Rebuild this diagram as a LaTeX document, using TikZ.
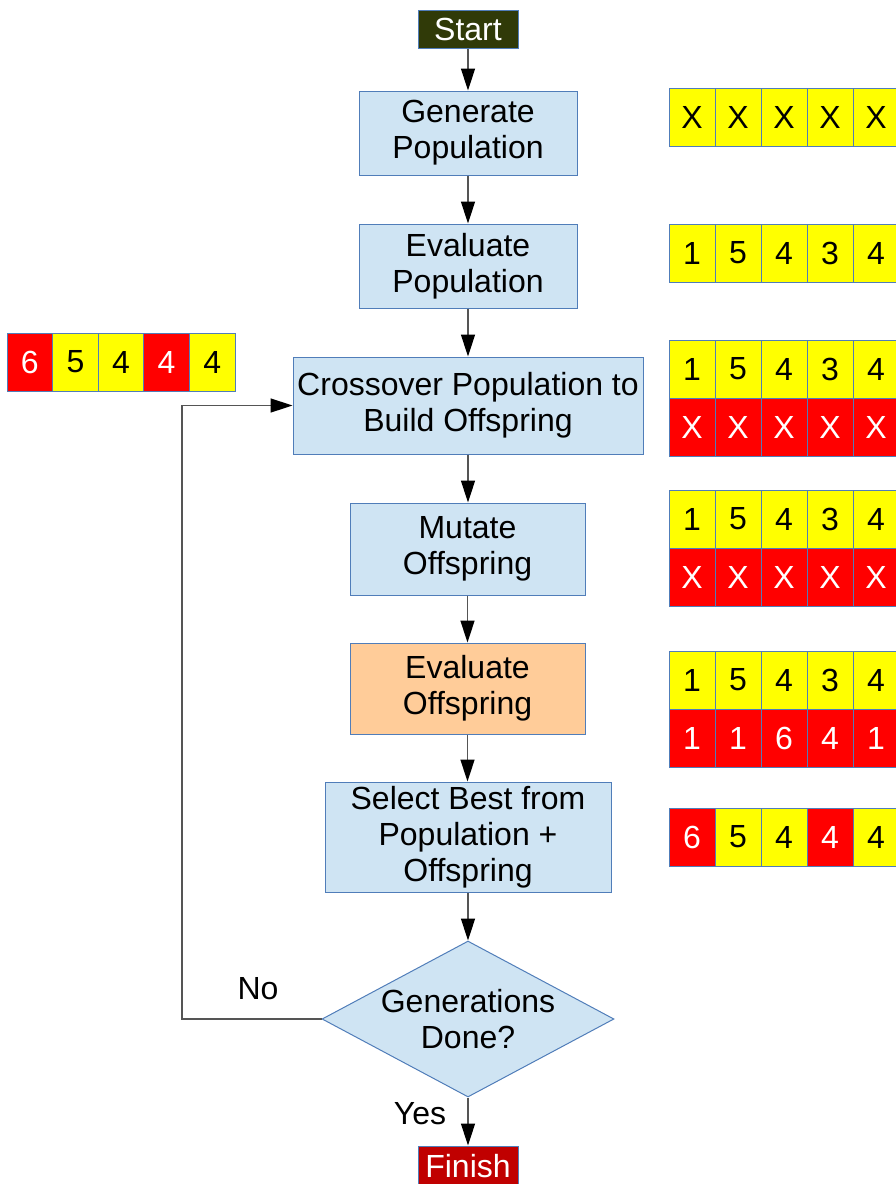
\documentclass[tikz,border=0pt]{standalone}
\usepackage{fontspec}
\setmainfont{Liberation Sans}
\usetikzlibrary{arrows.meta,shapes.geometric}

\definecolor{boxblue}{RGB}{207,228,243}
\definecolor{edgeblue}{RGB}{80,125,185}
\definecolor{startgreen}{RGB}{48,58,8}
\definecolor{finishred}{RGB}{192,0,0}
\definecolor{evalorange}{RGB}{255,204,153}
\definecolor{cellyellow}{RGB}{255,255,0}
\definecolor{cellred}{RGB}{255,0,0}
\definecolor{linegray}{RGB}{85,85,85}

\tikzset{
  txt/.style={font=\fontsize{32}{36}\selectfont},
  plainbox/.style={txt, draw=edgeblue, fill=boxblue, align=center, inner sep=0pt, line width=1pt},
  stepbox/.style={plainbox, execute at begin node={\rule{0pt}{37pt}}},
  endbox/.style={plainbox, text=white, minimum width=100, minimum height=38},
  decision/.style={txt, diamond, draw=edgeblue, fill=boxblue, align=center, inner sep=-10pt,
    minimum width=292, minimum height=156, aspect=1.87, line width=1pt},
  cell/.style={txt, draw=edgeblue, line width=1pt, minimum width=46, minimum height=58, inner sep=0pt},
  yel/.style={fill=cellyellow, text=black},
  rd/.style={fill=cellred, text=white},
  flow/.style={draw=linegray, line width=1.5pt, -{Triangle[width=14pt,length=22pt,color=black]}}
}

\begin{document}
\begin{tikzpicture}[x=1pt, y=-1pt]
  \useasboundingbox (0,0) rectangle (895,1184);

  % flow chart
  \node[endbox, fill=startgreen] (start) at (468,29) {Start};
  \node[stepbox, minimum width=218, minimum height=84] (genpop) at (468,133) {Generate\\Population};
  \node[stepbox, minimum width=218, minimum height=84] (evalpop) at (468,266) {Evaluate\\Population};
  \node[stepbox, minimum width=350, minimum height=97] (cross) at (468,405.5) {Crossover Population to\\Build Offspring};
  \node[stepbox, minimum width=235, minimum height=92] (mutate) at (467.5,549) {Mutate\\Offspring};
  \node[stepbox, fill=evalorange, minimum width=235, minimum height=91] (evaloff) at (467.5,688.5) {Evaluate\\Offspring};
  \node[stepbox, minimum width=286, minimum height=110] (select) at (468,837) {Select Best from\\Population +\\Offspring};
  \node[decision] (done) at (468,1019) {Generations\\Done?};
  \node[endbox, fill=finishred, minimum height=40] (finish) at (468,1166) {Finish};

  \draw[flow] (start) -- (genpop);
  \draw[flow] (genpop) -- (evalpop);
  \draw[flow] (evalpop) -- (cross);
  \draw[flow] (cross.south) -- (cross.south |- mutate.north);
  \draw[flow] (mutate.south) -- (mutate.south |- evaloff.north);
  \draw[flow] (evaloff.south) -- (evaloff.south |- select.north);
  \draw[flow] (select) -- (done);
  \draw[flow] (done) -- (finish);

  % loop back
  \coordinate (back) at (182,1019);
  \draw[flow] (done.west) -- (back) |- (cross.west);
  \node[txt] (nolbl) at (258,989) {No};
  \node[txt] (yeslbl) at (420,1114) {Yes};

  % arrays
  \foreach \v [count=\i from 0] in {X,X,X,X,X}
    \node[cell, yel] (gen\i) at (692+46*\i,117) {\v};
  \foreach \v [count=\i from 0] in {1,5,4,3,4}
    \node[cell, yel] (fit\i) at (692+46*\i,253) {\v};
  \foreach \v [count=\i from 0] in {1,5,4,3,4}
    \node[cell, yel] (crossa\i) at (692+46*\i,369) {\v};
  \foreach \v [count=\i from 0] in {X,X,X,X,X}
    \node[cell, rd] (crossb\i) at (692+46*\i,427) {\v};
  \foreach \v [count=\i from 0] in {1,5,4,3,4}
    \node[cell, yel] (muta\i) at (692+46*\i,519) {\v};
  \foreach \v [count=\i from 0] in {X,X,X,X,X}
    \node[cell, rd] (mutb\i) at (692+46*\i,577) {\v};
  \foreach \v [count=\i from 0] in {1,5,4,3,4}
    \node[cell, yel] (offa\i) at (692+46*\i,680) {\v};
  \foreach \v [count=\i from 0] in {1,1,6,4,1}
    \node[cell, rd] (offb\i) at (692+46*\i,738.5) {\v};
  \foreach \v/\c [count=\i from 0] in {6/rd,5/yel,4/yel,4/rd,4/yel}
    \node[cell, \c] (best\i) at (692+46*\i,837) {\v};
  \foreach \v/\c [count=\i from 0] in {6/rd,5/yel,4/yel,4/rd,4/yel}
    \node[cell, \c, minimum width=45.6] (pick\i) at (29.8+45.6*\i,362) {\v};
\end{tikzpicture}
\end{document}
